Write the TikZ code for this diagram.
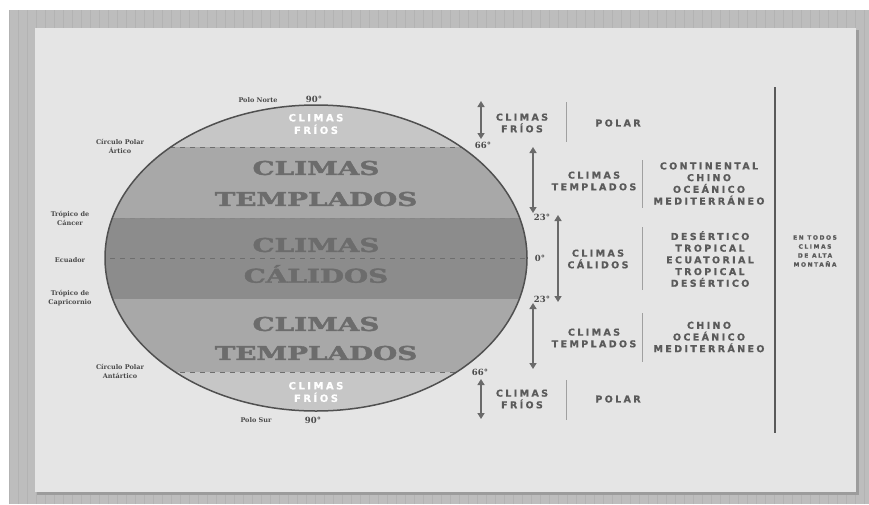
\documentclass[tikz,border=0pt]{standalone}
\usepackage{fontspec}
\usepackage{graphicx}
\setmainfont{DejaVu Serif}
\newfontfamily\slab[BoldFeatures={FakeBold=1.8}]{DejaVu Serif}
\newfontfamily\lab[LetterSpace=25,BoldFeatures={FakeBold=0.8}]{DejaVu Sans}
\usetikzlibrary{arrows.meta}
\definecolor{outerc}{HTML}{BDBDBD}
\definecolor{gridc}{HTML}{B3B3B3}
\definecolor{panelc}{HTML}{E5E5E5}
\definecolor{shadowc}{HTML}{9C9C9C}
\definecolor{frioc}{HTML}{C6C6C6}
\definecolor{templc}{HTML}{A8A8A8}
\definecolor{calic}{HTML}{8C8C8C}
\definecolor{bigc}{HTML}{6C6C6C}
\definecolor{edgec}{HTML}{505050}
\definecolor{dashc}{HTML}{6E6E6E}
\definecolor{labc}{HTML}{5A5A5A}
\definecolor{leftc}{HTML}{4A4A4A}
\definecolor{arrc}{HTML}{6A6A6A}
\definecolor{sepc}{HTML}{A0A0A0}
\tikzset{
  rlab/.style={font=\lab\bfseries\fontsize{9.5}{11.7}\selectfont, text=labc, align=center, inner sep=0pt},
  llab/.style={font=\bfseries\fontsize{6.5}{9}\selectfont, text=leftc, align=center, inner sep=0pt},
  deg/.style={font=\bfseries\fontsize{8.5}{10}\selectfont, text=leftc, inner sep=0pt},
  big/.style={font=\slab\bfseries\fontsize{19}{24}\selectfont, text=bigc, inner sep=0pt},
  wlab/.style={font=\lab\bfseries\fontsize{10}{12.5}\selectfont, text=white, align=center, inner sep=0pt},
  arr/.style={draw=arrc, line width=1.8pt, {Triangle[width=7pt,length=6pt]}-{Triangle[width=7pt,length=6pt]}},
  sepline/.style={draw=sepc, line width=1pt},
  dline/.style={draw=dashc, line width=0.9pt, dash pattern=on 5pt off 5pt},
}
\begin{document}
\begin{tikzpicture}[x=1pt,y=-1pt]
\useasboundingbox (0,0) rectangle (869,504);
\fill[white] (0,0) rectangle (869,504);
\fill[outerc] (9,10) rectangle (869,504);
\draw[gridc, line width=0.4pt, step=9] (9,10) grid (869,504);
% panel
\fill[shadowc] (37,30) rectangle (859,495);
\fill[panelc] (35,28) rectangle (856,492);
% globe
\begin{scope}
  \clip (316,258) ellipse [x radius=211, y radius=153];
  \fill[frioc] (100,100) rectangle (530,147);
  \fill[templc] (100,147) rectangle (530,218);
  \fill[calic] (100,218) rectangle (530,299);
  \fill[templc] (100,299) rectangle (530,372);
  \fill[frioc] (100,372) rectangle (530,415);
  \draw[dline] (100,147) -- (530,147);
  \draw[dline, draw=templc!80!black] (100,218) -- (530,218);
  \draw[dline] (100,258) -- (530,258);
  \draw[dline] (100,372) -- (530,372);
\end{scope}
\draw[edgec, line width=1.5pt] (316,258) ellipse [x radius=211, y radius=153];
% texts in globe
\node[wlab] (f1) at (316,124) {CLIMAS\\FRÍOS};
\node[big] (t1a) at (316,168) {\scalebox{1.46}[1]{CLIMAS}};
\node[big] (t1b) at (316,199) {\scalebox{1.46}[1]{TEMPLADOS}};
\node[big] (c1a) at (316,245) {\scalebox{1.46}[1]{CLIMAS}};
\node[big] (c1b) at (316,274) {\scalebox{1.46}[1]{CÁLIDOS}};
\node[big] (t2a) at (316,324) {\scalebox{1.46}[1]{CLIMAS}};
\node[big] (t2b) at (316,353) {\scalebox{1.46}[1]{TEMPLADOS}};
\node[wlab] (f2) at (316,392) {CLIMAS\\FRÍOS};
% left labels
\node[llab] (pn) at (258,100) {Polo Norte};
\node[deg] (pn90) at (314,99) {90°};
\node[llab] (cpa) at (120,146) {Círculo Polar\\Ártico};
\node[llab] (tc) at (70,218) {Trópico de\\Cáncer};
\node[llab] (ec) at (70,260) {Ecuador};
\node[llab] (tcap) at (70,298) {Trópico de\\Capricornio};
\node[llab] (cpant) at (120,371) {Círculo Polar\\Antártico};
\node[llab] (ps) at (256,420) {Polo Sur};
\node[deg] (ps90) at (313,420) {90°};
% degree marks right
\node[deg] (d66a) at (483,145) {66°};
\node[deg] (d23a) at (542,217) {23°};
\node[deg] (d0) at (540,258) {0°};
\node[deg] (d23b) at (542,299) {23°};
\node[deg] (d66b) at (480,372) {66°};
% arrow endpoints
\coordinate (a1t) at (481,101); \coordinate (a1b) at (481,139);
\coordinate (a2t) at (533,147); \coordinate (a2b) at (533,213);
\coordinate (a3t) at (558,215); \coordinate (a3b) at (558,302);
\coordinate (a4t) at (533,303); \coordinate (a4b) at (533,369);
\coordinate (a5t) at (481,379); \coordinate (a5b) at (481,419);
\draw[arr] (a1t) -- (a1b);
\draw[arr] (a2t) -- (a2b);
\draw[arr] (a3t) -- (a3b);
\draw[arr] (a4t) -- (a4b);
\draw[arr] (a5t) -- (a5b);
% climate labels
\node[rlab] (r1) at (522,123) {CLIMAS\\FRÍOS};
\node[rlab] (r2) at (594,181) {CLIMAS\\TEMPLADOS};
\node[rlab] (r3) at (598,259) {CLIMAS\\CÁLIDOS};
\node[rlab] (r4) at (594,338) {CLIMAS\\TEMPLADOS};
\node[rlab] (r5) at (522,399) {CLIMAS\\FRÍOS};
% separators
\coordinate (s1t) at (566,102); \coordinate (s1b) at (566,142);
\coordinate (s2t) at (642,160); \coordinate (s2b) at (642,208);
\coordinate (s3t) at (642,227); \coordinate (s3b) at (642,290);
\coordinate (s4t) at (642,313); \coordinate (s4b) at (642,362);
\coordinate (s5t) at (566,380); \coordinate (s5b) at (566,420);
\draw[sepline] (s1t) -- (s1b);
\draw[sepline] (s2t) -- (s2b);
\draw[sepline] (s3t) -- (s3b);
\draw[sepline] (s4t) -- (s4b);
\draw[sepline] (s5t) -- (s5b);
% types
\node[rlab] (k1) at (618,123) {POLAR};
\node[rlab] (k2) at (709,183.5) {CONTINENTAL\\CHINO\\OCEÁNICO\\MEDITERRÁNEO};
\node[rlab] (k3) at (710,259) {DESÉRTICO\\TROPICAL\\ECUATORIAL\\TROPICAL\\DESÉRTICO};
\node[rlab] (k4) at (709,337) {CHINO\\OCEÁNICO\\MEDITERRÁNEO};
\node[rlab] (k5) at (618,399) {POLAR};
% mountain
\coordinate (mt) at (775,87); \coordinate (mb) at (775,433);
\draw[draw=labc, line width=2.6pt] (mt) -- (mb);
\node[rlab, font=\lab\bfseries\fontsize{6}{9}\selectfont] (mont) at (815,251) {EN TODOS\\CLIMAS\\DE ALTA\\MONTAÑA};
\end{tikzpicture}
\end{document}
